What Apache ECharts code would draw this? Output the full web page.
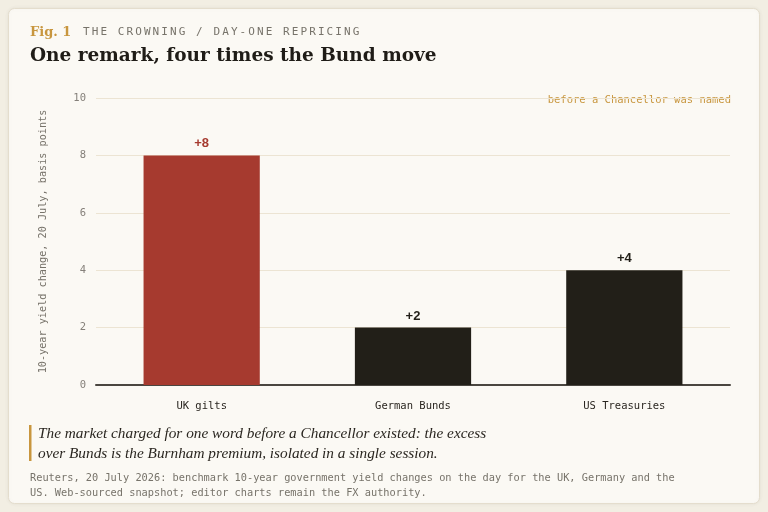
<!DOCTYPE html>
<html>
<head>
<meta charset="utf-8">
<script src="https://cdn.jsdelivr.net/npm/echarts@6/dist/echarts.min.js"></script>
<style>
  html, body { margin: 0; padding: 0; background: #f2eee3; }
  #main { width: 768px; height: 512px; }
</style>
</head>
<body>
<div id="main"></div>
<script>
// data
var markets = ['UK gilts', 'German Bunds', 'US Treasuries'];
var yieldMove = [8, 2, 4];
var barColors = ['#a63a2f', '#221f18', '#221f18'];

var mono = '"DejaVu Sans Mono", "Liberation Mono", monospace';
var serif = '"Liberation Serif", "DejaVu Serif", serif';

var chart = echarts.init(document.getElementById('main'), null, { renderer: 'canvas' });

// kicker text with letter spacing: one char per text element
var kicker = 'THE CROWNING / DAY-ONE REPRICING';
var kickerChars = kicker.split('').map(function (ch, i) {
  return {
    type: 'text', left: 83 + i * 8.7, top: 27,
    style: { text: ch, font: '11px ' + mono, fill: '#77736a' }
  };
});

var option = {
  backgroundColor: '#f2eee3',
  animation: false,
  grid: { left: 96, right: 38, top: 98, bottom: 127 },
  xAxis: {
    type: 'category',
    data: markets,
    axisTick: { show: false },
    axisLine: { lineStyle: { color: '#4a4640', width: 2 } },
    axisLabel: { fontFamily: mono, fontSize: 10.5, color: '#2a2620', margin: 16 }
  },
  yAxis: {
    type: 'value',
    min: 0, max: 10, interval: 2,
    name: '10-year yield change, 20 July, basis points',
    nameLocation: 'middle',
    nameGap: 48,
    nameTextStyle: { fontFamily: mono, fontSize: 10.2, color: '#77736a' },
    axisLine: { show: false },
    axisTick: { show: false },
    axisLabel: { fontFamily: mono, fontSize: 10.5, color: '#85807a', margin: 10 },
    splitLine: { lineStyle: { color: '#ece4d3', width: 1 } }
  },
  series: [{
    type: 'bar',
    barWidth: '55%',
    data: yieldMove.map(function (v, i) {
      return {
        value: v,
        itemStyle: { color: barColors[i] },
        label: { color: barColors[i] }
      };
    }),
    label: {
      show: true,
      position: 'top',
      distance: 5,
      fontFamily: '"Liberation Sans", Arial, sans-serif',
      fontWeight: 'bold',
      fontSize: 13,
      formatter: function (p) { return '+' + p.value; }
    }
  }],
  graphic: [
    {
      type: 'rect', z: -10,
      shape: { x: 8.5, y: 8.5, width: 751, height: 495, r: 6 },
      style: { fill: '#fbf9f4', stroke: '#e4ddcd', lineWidth: 1, shadowBlur: 4, shadowColor: 'rgba(0,0,0,0.06)' }
    },
    {
      type: 'text', left: 30, top: 26,
      style: { text: 'Fig. 1', font: 'bold 13px "DejaVu Serif", serif', fill: '#c8963e' }
    },
    {
      type: 'text', left: 30, top: 47,
      style: { text: 'One remark, four times the Bund move', font: 'bold 18.5px "DejaVu Serif", serif', fill: '#1f1c17' }
    },
    {
      type: 'text', right: 37, top: 95,
      style: { text: 'before a Chancellor was named', font: '10.5px ' + mono, fill: '#c8963e' }
    },
    {
      type: 'rect',
      shape: { x: 29, y: 425, width: 2.5, height: 36 },
      style: { fill: '#c8963e' }
    },
    {
      type: 'text', left: 38, top: 424,
      style: {
        text: 'The market charged for one word before a Chancellor existed: the excess\nover Bunds is the Burnham premium, isolated in a single session.',
        font: 'italic 15.3px ' + serif, lineHeight: 20, fill: '#2a2620'
      }
    },
    {
      type: 'text', left: 30, top: 471,
      style: {
        text: 'Reuters, 20 July 2026: benchmark 10-year government yield changes on the day for the UK, Germany and the\nUS. Web-sourced snapshot; editor charts remain the FX authority.',
        font: '10.3px ' + mono, lineHeight: 15, fill: '#77736a'
      }
    }
  ].concat(kickerChars)
};

chart.setOption(option);
</script>
</body>
</html>
